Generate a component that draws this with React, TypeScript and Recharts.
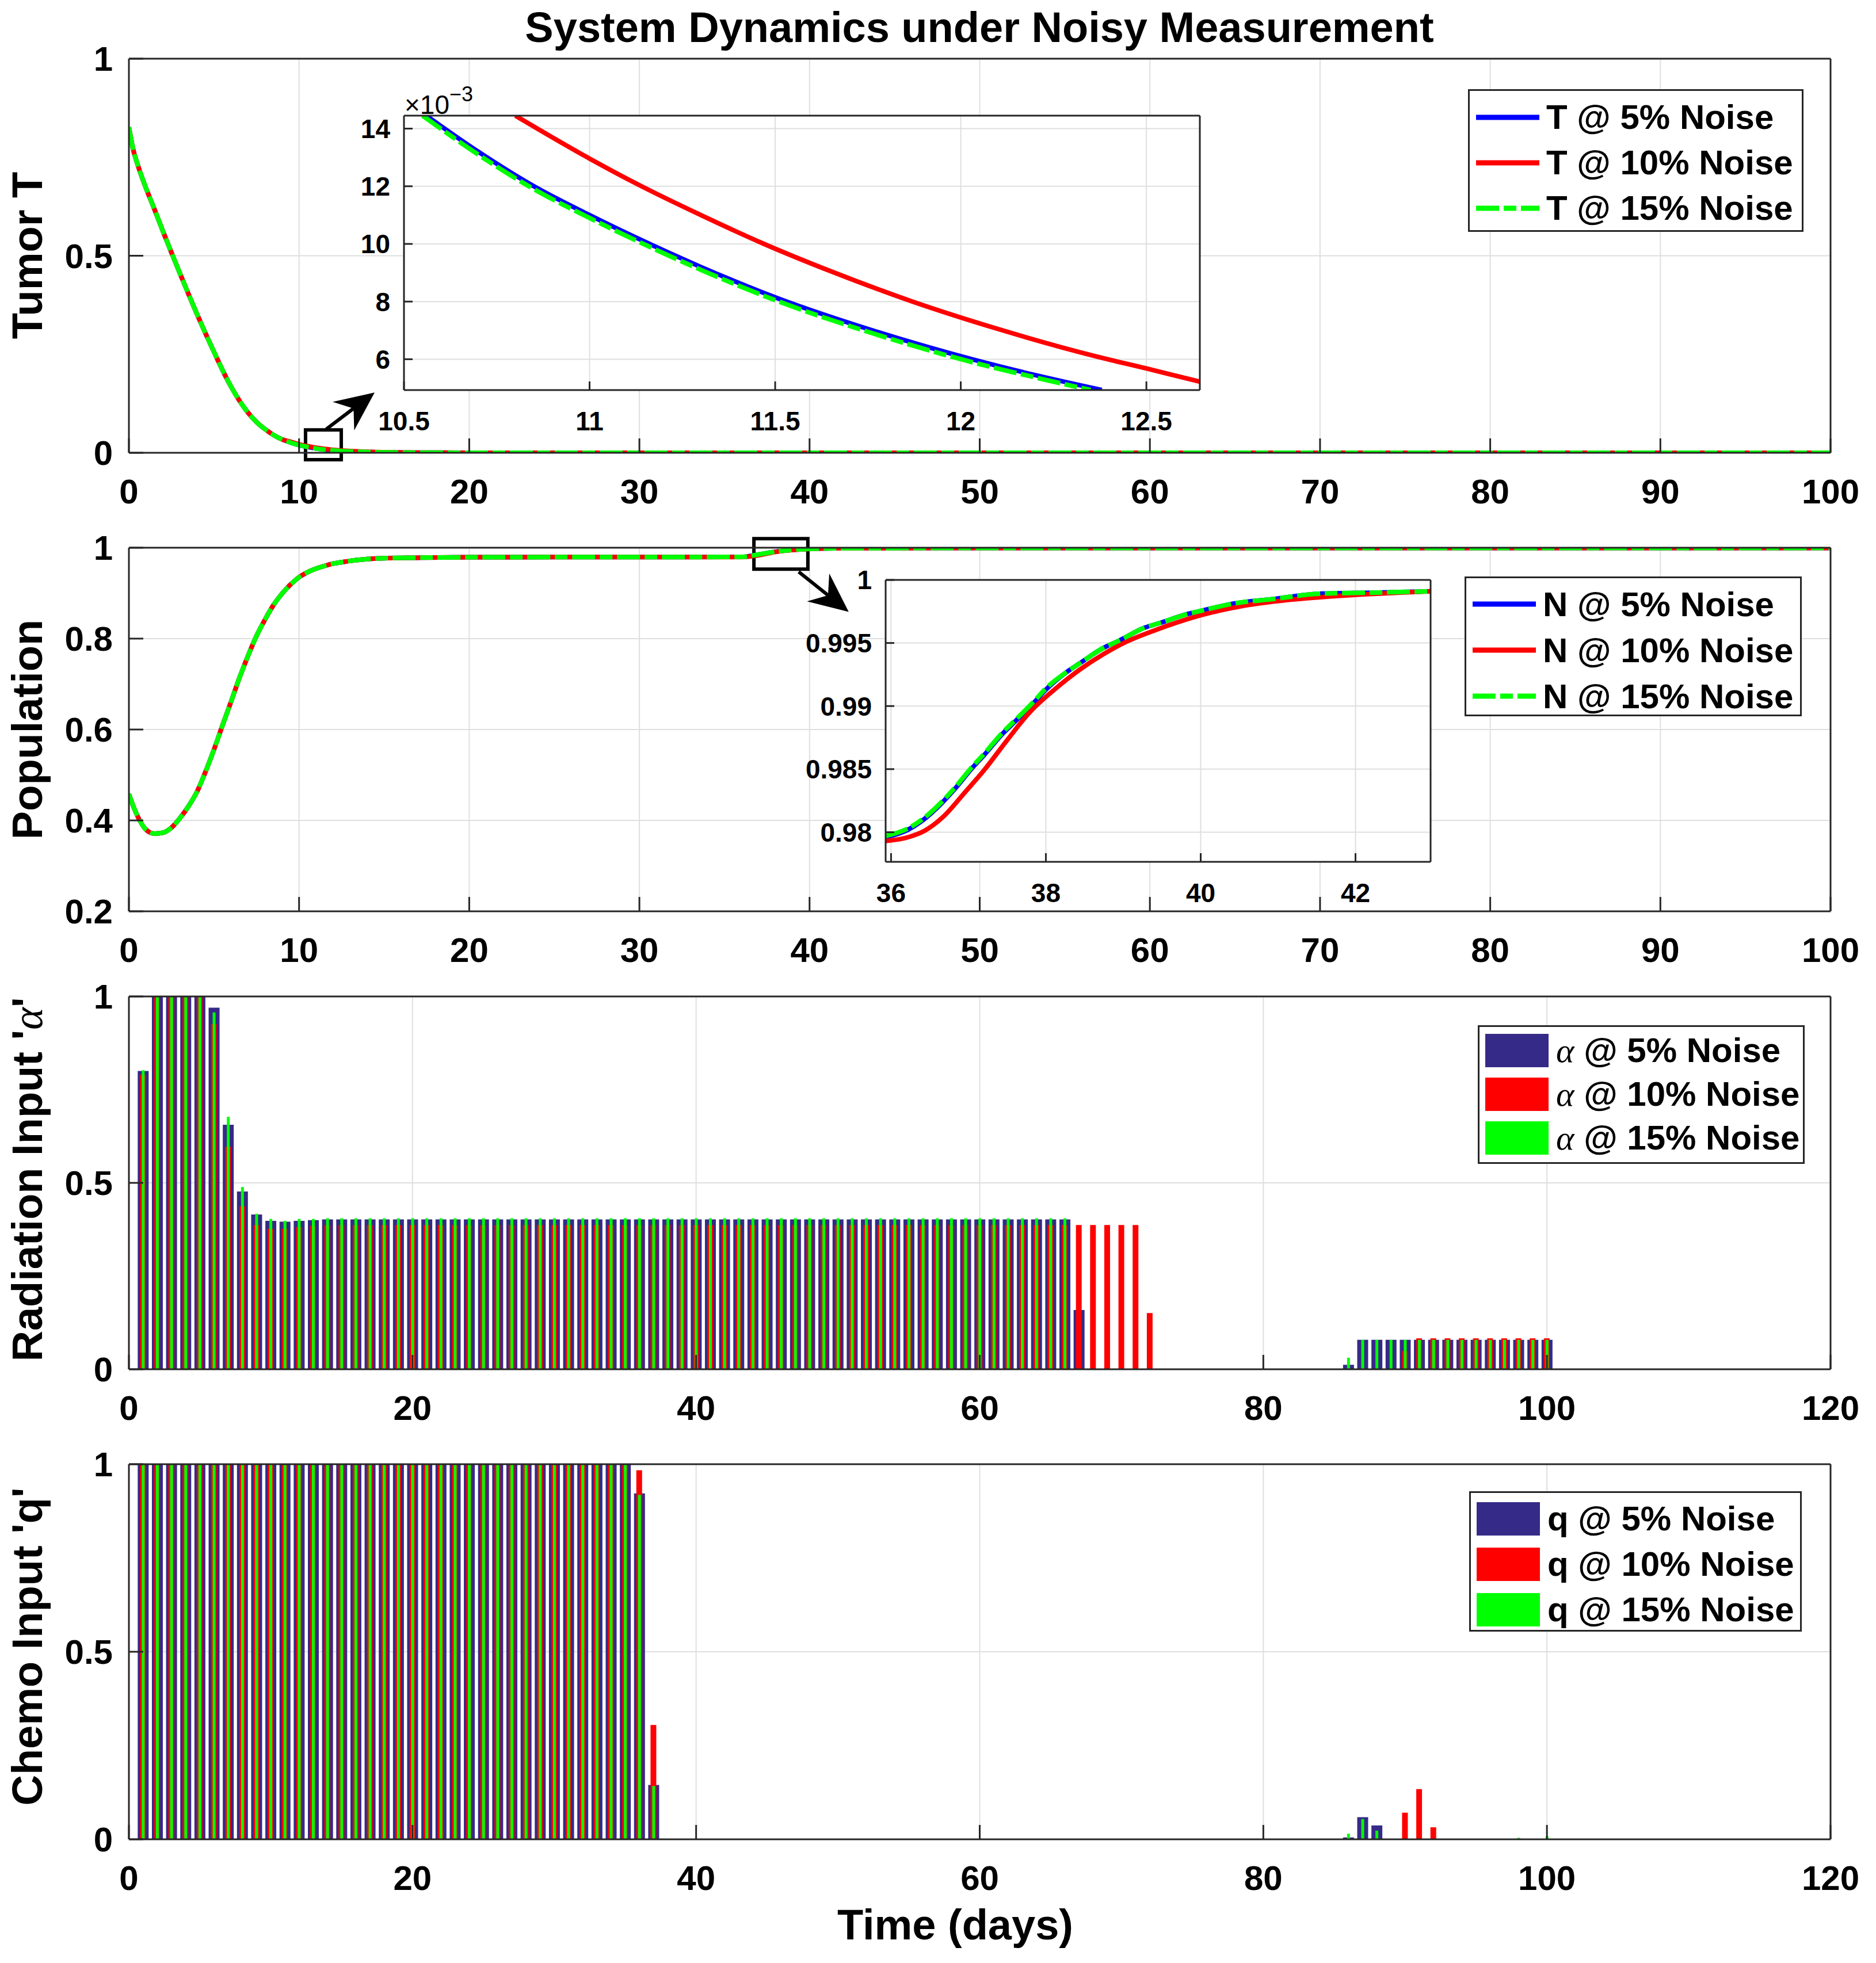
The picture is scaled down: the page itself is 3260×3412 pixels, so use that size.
import React from "react";
import {
  LineChart,
  Line,
  BarChart,
  Bar,
  XAxis,
  YAxis,
  CartesianGrid,
  ReferenceArea,
  ReferenceLine,
} from "recharts";

const SANS = "'Liberation Sans', Arial, Helvetica, sans-serif";
const SERIF = "'Liberation Serif', 'Times New Roman', serif";
const INK = "#262626";
const GRID = "#dfdfdf";
const BLUE = "#0000ff";
const RED = "#ff0000";
const GREEN = "#00ff00";
const NAVY = "#352a87";
const DASH_DOT = "40 8 22 8";

const W = 3260;
const H = 3412;

// ---- time grid shared by the T and N trajectories (days)
const tGrid = [
  0, 0.25, 0.5, 1, 1.5, 2, 2.5, 3, 3.5, 4, 4.5, 5, 5.5, 6, 6.5, 7, 7.5, 8, 8.5, 9, 9.5, 10,
  10.5, 11, 11.5, 12, 12.5, 13, 14, 15, 17, 20, 25, 30, 35, 36, 37, 38, 39, 40, 42, 45,
  50, 60, 70, 80, 90, 100,
];

// tumor T
const T5 = [
  0.826, 0.77, 0.733, 0.672, 0.618, 0.562, 0.508, 0.455, 0.403, 0.352, 0.303, 0.256, 0.21, 0.168, 0.132, 0.102, 0.078, 0.06, 0.045, 0.034, 0.026, 0.0195,
  0.0148, 0.0109, 0.0081, 0.0062, 0.0045, 0.0034, 0.0019, 0.0011, 0.0004, 0.0001, 0, 0, 0, 0, 0, 0, 0, 0, 0, 0,
  0, 0, 0, 0, 0, 0,
];
const T10 = [
  0.826, 0.77, 0.733, 0.672, 0.618, 0.562, 0.508, 0.455, 0.403, 0.352, 0.303, 0.256, 0.21, 0.168, 0.132, 0.102, 0.078, 0.06, 0.045, 0.034, 0.028, 0.0215,
  0.0168, 0.0129, 0.0098, 0.0075, 0.0057, 0.0043, 0.0025, 0.0014, 0.0005, 0.0001, 0, 0, 0, 0, 0, 0, 0, 0, 0, 0,
  0, 0, 0, 0, 0, 0,
];
const T15 = [
  0.826, 0.77, 0.733, 0.672, 0.618, 0.562, 0.508, 0.455, 0.403, 0.352, 0.303, 0.256, 0.21, 0.168, 0.132, 0.102, 0.078, 0.06, 0.045, 0.034, 0.026, 0.0194,
  0.0146, 0.0107, 0.0079, 0.0061, 0.0044, 0.0033, 0.0019, 0.0011, 0.0004, 0.0001, 0, 0, 0, 0, 0, 0, 0, 0, 0, 0,
  0, 0, 0, 0, 0, 0,
];

// population N
const N5 = [
  0.458, 0.432, 0.41, 0.38, 0.371, 0.373, 0.384, 0.405, 0.431, 0.463, 0.507, 0.556, 0.609, 0.661, 0.714, 0.762, 0.806, 0.842, 0.874, 0.899, 0.919, 0.935,
  0.946, 0.954, 0.96, 0.965, 0.968, 0.971, 0.975, 0.977, 0.978, 0.979, 0.9793, 0.9795, 0.9796, 0.9798, 0.9851, 0.9913, 0.9952, 0.9976, 0.9989, 0.9992,
  0.9993, 0.9994, 0.9994, 0.9994, 0.9994, 0.9994,
];
const N10 = [
  0.458, 0.432, 0.41, 0.38, 0.371, 0.373, 0.384, 0.405, 0.431, 0.463, 0.507, 0.556, 0.609, 0.661, 0.714, 0.762, 0.806, 0.842, 0.874, 0.899, 0.919, 0.935,
  0.946, 0.954, 0.96, 0.965, 0.968, 0.971, 0.975, 0.977, 0.978, 0.979, 0.9793, 0.9794, 0.9795, 0.9795, 0.9833, 0.9908, 0.9949, 0.9972, 0.9989, 0.9992,
  0.9993, 0.9994, 0.9994, 0.9994, 0.9994, 0.9994,
];
const N15 = [
  0.458, 0.432, 0.41, 0.38, 0.371, 0.373, 0.384, 0.405, 0.431, 0.463, 0.507, 0.556, 0.609, 0.661, 0.714, 0.762, 0.806, 0.842, 0.874, 0.899, 0.919, 0.935,
  0.946, 0.954, 0.96, 0.965, 0.968, 0.971, 0.975, 0.977, 0.978, 0.979, 0.9793, 0.9795, 0.9796, 0.9798, 0.9852, 0.9914, 0.9952, 0.9976, 0.9989, 0.9992,
  0.9993, 0.9994, 0.9994, 0.9994, 0.9994, 0.9994,
];

// zoomed tumor window, values in units of 1e-3
const zT5_t = [10.56, 10.7, 10.85, 11.0, 11.12, 11.3, 11.51, 11.75, 12.03, 12.2, 12.38];
const zT5_v = [14.45, 13.2, 12.0, 11.0, 10.25, 9.2, 8.1, 7.05, 6.0, 5.45, 4.93];
const zT10_t = [10.8, 11.0, 11.14, 11.3, 11.47, 11.65, 11.87, 12.1, 12.37, 12.5, 12.644];
const zT10_v = [14.45, 12.96, 12.0, 11.0, 10.0, 9.05, 8.0, 7.05, 6.08, 5.68, 5.22];
const zT15_t = [10.55, 10.7, 10.85, 11.0, 11.12, 11.3, 11.51, 11.75, 12.03, 12.2, 12.35];
const zT15_v = [14.45, 13.1, 11.9, 10.9, 10.15, 9.1, 8.0, 6.95, 5.9, 5.37, 4.93];

// zoomed population window
const zN5_t = [35.93, 36.22, 36.4, 36.67, 36.82, 37.05, 37.2, 37.44, 37.59, 37.85, 38.0, 38.27, 38.44, 38.74, 38.95, 39.27, 39.48, 39.83, 40.04, 40.4, 40.96, 41.52, 42.29, 42.97];
const zN5_v = [0.9796, 0.9802, 0.9809, 0.9824, 0.9834, 0.9851, 0.9861, 0.9878, 0.9887, 0.9903, 0.9913, 0.9927, 0.9934, 0.9946, 0.9952, 0.9962, 0.9966, 0.9973, 0.9976, 0.9981, 0.9985, 0.9989, 0.999, 0.9991];
const zN10_t = [35.93, 36.22, 36.43, 36.67, 36.96, 37.2, 37.5, 37.79, 38.09, 38.44, 38.74, 39.04, 39.45, 40.0, 40.51, 41.11, 41.7, 42.97];
const zN10_v = [0.9793, 0.9796, 0.9801, 0.9812, 0.9832, 0.9849, 0.9873, 0.9895, 0.9912, 0.9929, 0.9941, 0.9951, 0.9961, 0.9972, 0.9979, 0.9984, 0.9987, 0.9991];
const zN15_t = [35.93, 36.22, 36.4, 36.67, 36.82, 37.05, 37.2, 37.44, 37.59, 37.85, 38.0, 38.27, 38.44, 38.74, 38.95, 39.27, 39.48, 39.83, 40.04, 40.4, 40.96, 41.52, 42.29, 42.97];
const zN15_v = [0.9797, 0.9803, 0.981, 0.9825, 0.9835, 0.9852, 0.9862, 0.9879, 0.9888, 0.9904, 0.9914, 0.9927, 0.9934, 0.9946, 0.9952, 0.9962, 0.9966, 0.9973, 0.9976, 0.9981, 0.9985, 0.9989, 0.999, 0.9991];

// daily radiation input alpha, days 1..100 (one row = ten days)
const alpha5 = [
  0.8, 1, 1, 1, 1, 0.97, 0.656, 0.477, 0.415, 0.398,
  0.396, 0.398, 0.4, 0.402, 0.402, 0.402, 0.402, 0.402, 0.402, 0.402,
  0.402, 0.402, 0.402, 0.402, 0.402, 0.402, 0.402, 0.402, 0.402, 0.402,
  0.402, 0.402, 0.402, 0.402, 0.402, 0.402, 0.402, 0.402, 0.402, 0.402,
  0.402, 0.402, 0.402, 0.402, 0.402, 0.402, 0.402, 0.402, 0.402, 0.402,
  0.402, 0.402, 0.402, 0.402, 0.402, 0.402, 0.402, 0.402, 0.402, 0.402,
  0.402, 0.402, 0.402, 0.402, 0.402, 0.402, 0.159, 0, 0, 0,
  0, 0, 0, 0, 0, 0, 0, 0, 0, 0,
  0, 0, 0, 0, 0, 0.012, 0.079, 0.079, 0.079, 0.079,
  0.079, 0.079, 0.079, 0.079, 0.079, 0.079, 0.079, 0.079, 0.079, 0.079,
];
const alpha10 = [
  0.79, 1, 1, 1, 1, 0.926, 0.597, 0.437, 0.387, 0.377,
  0.377, 0.381, 0.385, 0.387, 0.387, 0.387, 0.387, 0.387, 0.387, 0.387,
  0.387, 0.387, 0.387, 0.387, 0.387, 0.387, 0.387, 0.387, 0.387, 0.387,
  0.387, 0.387, 0.387, 0.387, 0.387, 0.387, 0.387, 0.387, 0.387, 0.387,
  0.387, 0.387, 0.387, 0.387, 0.387, 0.387, 0.387, 0.387, 0.387, 0.387,
  0.387, 0.387, 0.387, 0.387, 0.387, 0.387, 0.387, 0.387, 0.387, 0.387,
  0.387, 0.387, 0.387, 0.387, 0.387, 0.387, 0.387, 0.387, 0.387, 0.387,
  0.387, 0.151, 0, 0, 0, 0, 0, 0, 0, 0,
  0, 0, 0, 0, 0, 0, 0, 0, 0, 0.049,
  0.083, 0.083, 0.083, 0.083, 0.083, 0.083, 0.083, 0.083, 0.083, 0.083,
];
const alpha15 = [
  0.802, 1, 1, 1, 1, 0.957, 0.677, 0.489, 0.417, 0.403,
  0.398, 0.403, 0.403, 0.405, 0.405, 0.405, 0.405, 0.405, 0.405, 0.405,
  0.405, 0.405, 0.405, 0.405, 0.405, 0.405, 0.405, 0.405, 0.405, 0.405,
  0.405, 0.405, 0.405, 0.405, 0.405, 0.405, 0.405, 0.405, 0.405, 0.405,
  0.405, 0.405, 0.405, 0.405, 0.405, 0.405, 0.405, 0.405, 0.405, 0.405,
  0.405, 0.405, 0.405, 0.405, 0.405, 0.405, 0.405, 0.405, 0.405, 0.405,
  0.405, 0.405, 0.405, 0.405, 0.405, 0.405, 0, 0, 0, 0,
  0, 0, 0, 0, 0, 0, 0, 0, 0, 0,
  0, 0, 0, 0, 0, 0.031, 0.079, 0.079, 0.079, 0.079,
  0.079, 0.079, 0.079, 0.079, 0.079, 0.079, 0.079, 0.079, 0.079, 0.079,
];

// daily chemo input q, days 1..100 (one row = ten days)
const q5 = [
  1, 1, 1, 1, 1, 1, 1, 1, 1, 1,
  1, 1, 1, 1, 1, 1, 1, 1, 1, 1,
  1, 1, 1, 1, 1, 1, 1, 1, 1, 1,
  1, 1, 1, 1, 1, 0.922, 0.145, 0, 0, 0,
  0, 0, 0, 0, 0, 0, 0, 0, 0, 0,
  0, 0, 0, 0, 0, 0, 0, 0, 0, 0,
  0, 0, 0, 0, 0, 0, 0, 0, 0, 0,
  0, 0, 0, 0, 0, 0, 0, 0, 0, 0,
  0, 0, 0, 0, 0, 0.005, 0.059, 0.037, 0, 0,
  0, 0, 0, 0, 0, 0, 0, 0, 0, 0,
];
const q10 = [
  1, 1, 1, 1, 1, 1, 1, 1, 1, 1,
  1, 1, 1, 1, 1, 1, 1, 1, 1, 1,
  1, 1, 1, 1, 1, 1, 1, 1, 1, 1,
  1, 1, 1, 1, 1, 0.984, 0.305, 0, 0, 0,
  0, 0, 0, 0, 0, 0, 0, 0, 0, 0,
  0, 0, 0, 0, 0, 0, 0, 0, 0, 0,
  0, 0, 0, 0, 0, 0, 0, 0, 0, 0,
  0, 0, 0, 0, 0, 0, 0, 0, 0, 0,
  0, 0, 0, 0, 0, 0, 0, 0, 0, 0.071,
  0.134, 0.032, 0, 0, 0, 0, 0, 0, 0, 0,
];
const q15 = [
  1, 1, 1, 1, 1, 1, 1, 1, 1, 1,
  1, 1, 1, 1, 1, 1, 1, 1, 1, 1,
  1, 1, 1, 1, 1, 1, 1, 1, 1, 1,
  1, 1, 1, 1, 1, 0.918, 0.142, 0, 0, 0,
  0, 0, 0, 0, 0, 0, 0, 0, 0, 0,
  0, 0, 0, 0, 0, 0, 0, 0, 0, 0,
  0, 0, 0, 0, 0, 0, 0, 0, 0, 0,
  0, 0, 0, 0, 0, 0, 0, 0, 0, 0,
  0, 0, 0, 0, 0, 0.015, 0.054, 0.023, 0, 0,
  0, 0, 0, 0, 0, 0, 0, 0.004, 0, 0.008,
];

const xTicks100 = [0, 10, 20, 30, 40, 50, 60, 70, 80, 90, 100];
const xTicks120 = [0, 20, 40, 60, 80, 100, 120];

// zoom-box and arrow annotations (data coordinates)
const boxT = { x1: 10.38, x2: 12.48, y1: -0.0175, y2: 0.058 };
const arrowT = [{ x: 11.6, y: 0.06 }, { x: 14.44, y: 0.153 }];
const boxN = { x1: 36.73, x2: 39.9, y1: 0.953, y2: 1.02 };
const arrowN = [{ x: 39.36, y: 0.947 }, { x: 42.3, y: 0.859 }];

const mainRows = tGrid.map((t, i) => ({
  t,
  T5: T5[i],
  T10: T10[i],
  T15: T15[i],
  N5: N5[i],
  N10: N10[i],
  N15: N15[i],
}));
const days = alpha5.map((_, i) => i + 1);
const alphaRows = days.map((day, i) => ({ day, a5: alpha5[i], a10: alpha10[i], a15: alpha15[i] }));
const qRows = days.map((day, i) => ({ day, q5: q5[i], q10: q10[i], q15: q15[i] }));
const pairs = (ts: number[], vs: number[]) => ts.map((t, i) => ({ t, v: vs[i] }));

const tickStyle = { fontFamily: SANS, fontSize: 60, fontWeight: 700, fill: "#000" };
const insetTick = { fontFamily: SANS, fontSize: 46, fontWeight: 700, fill: "#000" };
const edge = { stroke: INK, strokeWidth: 3 };
// plot area starts 50px below a main chart's top and 224px from its left
const MARGIN = { top: 49, right: 78, bottom: 20, left: 124 };
// plot area starts 40px below an inset's top and 210px from its left
const INSET_MARGIN = { top: 39, right: 19, bottom: 10, left: 150 };

function Arrow(props: any) {
  const { x1, y1, x2, y2 } = props;
  const dx = x2 - x1;
  const dy = y2 - y1;
  const len = Math.hypot(dx, dy) || 1;
  const ux = dx / len;
  const uy = dy / len;
  const nx = -uy;
  const ny = ux;
  const L = 68;
  const half = 31;
  const back = 46;
  const bx = x2 - ux * L;
  const by = y2 - uy * L;
  const mx = x2 - ux * back;
  const my = y2 - uy * back;
  const pts = [
    [x2, y2],
    [bx + nx * half, by + ny * half],
    [mx, my],
    [bx - nx * half, by - ny * half],
  ]
    .map((p) => p.join(","))
    .join(" ");
  return (
    <g>
      <line x1={x1} y1={y1} x2={mx} y2={my} stroke="#000" strokeWidth={6} />
      <polygon points={pts} fill="#000" />
    </g>
  );
}

function LineLegend({ left, top, width, height, row, padTop, items }: any) {
  return (
    <div
      style={{
        position: "absolute",
        left,
        top,
        width,
        height,
        boxSizing: "border-box",
        border: `3px solid ${INK}`,
        background: "#fff",
        paddingTop: padTop,
        paddingLeft: 11,
      }}
    >
      {items.map((it: any) => (
        <div key={it.label} style={{ height: row, display: "flex", alignItems: "center" }}>
          <svg width={110} height={20} style={{ flex: "none" }}>
            <line x1={0} y1={10} x2={110} y2={10} stroke={it.color} strokeWidth={9} strokeDasharray={it.dash} />
          </svg>
          <span style={{ marginLeft: 12, fontFamily: SANS, fontSize: 60, fontWeight: 700, whiteSpace: "nowrap" }}>
            {it.label}
          </span>
        </div>
      ))}
    </div>
  );
}

function BarLegend({ left, top, width, height, row, padTop, symbol, items }: any) {
  return (
    <div
      style={{
        position: "absolute",
        left,
        top,
        width,
        height,
        boxSizing: "border-box",
        border: `3px solid ${INK}`,
        background: "#fff",
        paddingTop: padTop,
        paddingLeft: 10,
      }}
    >
      {items.map((it: any) => (
        <div key={it.label} style={{ height: row, display: "flex", alignItems: "center" }}>
          <div style={{ width: 110, height: 58, background: it.color, flex: "none" }} />
          <span style={{ marginLeft: 13, fontFamily: SANS, fontSize: 60, fontWeight: 700, whiteSpace: "nowrap" }}>
            {symbol}
            {it.label}
          </span>
        </div>
      ))}
    </div>
  );
}

// rotated axis title, centred on (48, cy)
function YLabel({ cy, children }: any) {
  return (
    <div
      style={{
        position: "absolute",
        left: 48,
        top: cy,
        transform: "translate(-50%, -50%) rotate(180deg)",
        writingMode: "vertical-rl",
        fontFamily: SANS,
        fontSize: 74,
        fontWeight: 700,
        whiteSpace: "nowrap",
        lineHeight: 1,
      }}
    >
      {children}
    </div>
  );
}

const alphaSym = (
  <span style={{ fontFamily: SERIF, fontStyle: "italic", fontWeight: 400 }}>α</span>
);

export default function App() {
  return (
    <div style={{ position: "absolute", left: 0, top: 0, width: W, height: H, background: "#fff" }}>
      <div
        style={{
          position: "absolute",
          left: 1702,
          top: 48,
          transform: "translate(-50%, -50%)",
          fontFamily: SANS,
          fontSize: 74,
          fontWeight: 700,
          whiteSpace: "nowrap",
          lineHeight: 1,
        }}
      >
        System Dynamics under Noisy Measurement
      </div>

      {/* Tumor T */}
      <div style={{ position: "absolute", left: 0, top: 52 }}>
        <LineChart width={W} height={855} data={mainRows} margin={MARGIN}>
          <CartesianGrid stroke={GRID} strokeWidth={2} />
          <XAxis dataKey="t" type="number" domain={[0, 100]} ticks={xTicks100} interval={0} allowDataOverflow height={100}
            axisLine={edge} tickLine={edge} tickSize={-25} tickMargin={70} tick={tickStyle} />
          <XAxis xAxisId="top" orientation="top" dataKey="t" type="number" domain={[0, 100]} ticks={xTicks100} interval={0}
            allowDataOverflow height={1} axisLine={edge} tickLine={edge} tickSize={-25} tick={false} />
          <YAxis type="number" domain={[0, 1]} ticks={[0, 0.5, 1]} interval={0} allowDataOverflow width={100}
            axisLine={edge} tickLine={edge} tickSize={-25} tickMargin={53} tick={tickStyle} />
          <YAxis yAxisId="right" orientation="right" type="number" domain={[0, 1]} ticks={[0, 0.5, 1]} interval={0}
            allowDataOverflow width={1} axisLine={edge} tickLine={edge} tickSize={-25} tick={false} />
          <Line type="monotone" dataKey="T5" stroke={BLUE} strokeWidth={8} dot={false} activeDot={false} isAnimationActive={false} />
          <Line type="monotone" dataKey="T10" stroke={RED} strokeWidth={8} dot={false} activeDot={false} isAnimationActive={false} />
          <Line type="monotone" dataKey="T15" stroke={GREEN} strokeWidth={8} strokeDasharray={DASH_DOT} dot={false} activeDot={false} isAnimationActive={false} />
          <ReferenceArea {...boxT} fill="none" stroke="#000" strokeWidth={6} ifOverflow="visible" />
          <ReferenceLine segment={arrowT} ifOverflow="visible" shape={Arrow} />
        </LineChart>
      </div>

      {/* Tumor zoom */}
      <div style={{ position: "absolute", left: 492, top: 161 }}>
        <LineChart width={1613} height={607} margin={INSET_MARGIN}>
          <CartesianGrid stroke={GRID} strokeWidth={2} fill="#fff" fillOpacity={1} />
          <XAxis dataKey="t" type="number" domain={[10.5, 12.644]} ticks={[10.5, 11, 11.5, 12, 12.5]} interval={0} allowDataOverflow height={80}
            axisLine={edge} tickLine={edge} tickSize={-15} tickMargin={52} tick={insetTick} />
          <XAxis xAxisId="top" orientation="top" dataKey="t" type="number" domain={[10.5, 12.644]} ticks={[10.5, 11, 11.5, 12, 12.5]} interval={0}
            allowDataOverflow height={1} axisLine={edge} tickLine={edge} tickSize={-15} tick={false} />
          <YAxis type="number" domain={[4.93, 14.45]} ticks={[6, 8, 10, 12, 14]} interval={0} allowDataOverflow width={60}
            axisLine={edge} tickLine={edge} tickSize={-15} tickMargin={39} tick={insetTick} />
          <YAxis yAxisId="right" orientation="right" type="number" domain={[4.93, 14.45]} ticks={[6, 8, 10, 12, 14]} interval={0}
            allowDataOverflow width={1} axisLine={edge} tickLine={edge} tickSize={-15} tick={false} />
          <Line data={pairs(zT5_t, zT5_v)} type="monotone" dataKey="v" stroke={BLUE} strokeWidth={8} dot={false} activeDot={false} isAnimationActive={false} />
          <Line data={pairs(zT10_t, zT10_v)} type="monotone" dataKey="v" stroke={RED} strokeWidth={8} dot={false} activeDot={false} isAnimationActive={false} />
          <Line data={pairs(zT15_t, zT15_v)} type="monotone" dataKey="v" stroke={GREEN} strokeWidth={8} strokeDasharray={DASH_DOT} dot={false} activeDot={false} isAnimationActive={false} />
        </LineChart>
      </div>
      <div style={{ position: "absolute", left: 703, top: 146, fontFamily: SANS, fontSize: 46, lineHeight: 1, whiteSpace: "nowrap" }}>
        ×10<sup style={{ fontSize: 36, verticalAlign: "0.6em" }}>−3</sup>
      </div>

      <LineLegend
        left={2551}
        top={155}
        width={583}
        height={248}
        row={79}
        padTop={6}
        items={[
          { label: "T @ 5% Noise", color: BLUE },
          { label: "T @ 10% Noise", color: RED },
          { label: "T @ 15% Noise", color: GREEN, dash: DASH_DOT },
        ]}
      />
      <YLabel cy={444}>Tumor T</YLabel>

      {/* Population N */}
      <div style={{ position: "absolute", left: 0, top: 902 }}>
        <LineChart width={W} height={802} data={mainRows} margin={MARGIN}>
          <CartesianGrid stroke={GRID} strokeWidth={2} />
          <XAxis dataKey="t" type="number" domain={[0, 100]} ticks={xTicks100} interval={0} allowDataOverflow height={100}
            axisLine={edge} tickLine={edge} tickSize={-25} tickMargin={70} tick={tickStyle} />
          <XAxis xAxisId="top" orientation="top" dataKey="t" type="number" domain={[0, 100]} ticks={xTicks100} interval={0}
            allowDataOverflow height={1} axisLine={edge} tickLine={edge} tickSize={-25} tick={false} />
          <YAxis type="number" domain={[0.2, 1]} ticks={[0.2, 0.4, 0.6, 0.8, 1]} interval={0} allowDataOverflow width={100}
            axisLine={edge} tickLine={edge} tickSize={-25} tickMargin={53} tick={tickStyle} />
          <YAxis yAxisId="right" orientation="right" type="number" domain={[0.2, 1]} ticks={[0.2, 0.4, 0.6, 0.8, 1]} interval={0}
            allowDataOverflow width={1} axisLine={edge} tickLine={edge} tickSize={-25} tick={false} />
          <Line type="monotone" dataKey="N5" stroke={BLUE} strokeWidth={8} dot={false} activeDot={false} isAnimationActive={false} />
          <Line type="monotone" dataKey="N10" stroke={RED} strokeWidth={8} dot={false} activeDot={false} isAnimationActive={false} />
          <Line type="monotone" dataKey="N15" stroke={GREEN} strokeWidth={8} strokeDasharray={DASH_DOT} dot={false} activeDot={false} isAnimationActive={false} />
          <ReferenceArea {...boxN} fill="none" stroke="#000" strokeWidth={6} ifOverflow="visible" />
          <ReferenceLine segment={arrowN} ifOverflow="visible" shape={Arrow} />
        </LineChart>
      </div>

      {/* Population zoom */}
      <div style={{ position: "absolute", left: 1329, top: 968 }}>
        <LineChart width={1177} height={620} margin={INSET_MARGIN}>
          <CartesianGrid stroke={GRID} strokeWidth={2} fill="#fff" fillOpacity={1} />
          <XAxis dataKey="t" type="number" domain={[35.93, 42.97]} ticks={[36, 38, 40, 42]} interval={0} allowDataOverflow height={80}
            axisLine={edge} tickLine={edge} tickSize={-15} tickMargin={52} tick={insetTick} />
          <XAxis xAxisId="top" orientation="top" dataKey="t" type="number" domain={[35.93, 42.97]} ticks={[36, 38, 40, 42]} interval={0}
            allowDataOverflow height={1} axisLine={edge} tickLine={edge} tickSize={-15} tick={false} />
          <YAxis type="number" domain={[0.97765, 1]} ticks={[0.98, 0.985, 0.99, 0.995, 1]} interval={0} allowDataOverflow width={60}
            axisLine={edge} tickLine={edge} tickSize={-15} tickMargin={39} tick={insetTick} />
          <YAxis yAxisId="right" orientation="right" type="number" domain={[0.97765, 1]} ticks={[0.98, 0.985, 0.99, 0.995, 1]} interval={0}
            allowDataOverflow width={1} axisLine={edge} tickLine={edge} tickSize={-15} tick={false} />
          <Line data={pairs(zN5_t, zN5_v)} type="monotone" dataKey="v" stroke={BLUE} strokeWidth={8} dot={false} activeDot={false} isAnimationActive={false} />
          <Line data={pairs(zN10_t, zN10_v)} type="monotone" dataKey="v" stroke={RED} strokeWidth={8} dot={false} activeDot={false} isAnimationActive={false} />
          <Line data={pairs(zN15_t, zN15_v)} type="monotone" dataKey="v" stroke={GREEN} strokeWidth={8} strokeDasharray={DASH_DOT} dot={false} activeDot={false} isAnimationActive={false} />
        </LineChart>
      </div>

      <LineLegend
        left={2545}
        top={1002}
        width={586}
        height={243}
        row={80}
        padTop={5}
        items={[
          { label: "N @ 5% Noise", color: BLUE },
          { label: "N @ 10% Noise", color: RED },
          { label: "N @ 15% Noise", color: GREEN, dash: DASH_DOT },
        ]}
      />
      <YLabel cy={1268}>Population</YLabel>

      {/* Radiation alpha */}
      <div style={{ position: "absolute", left: 0, top: 1682 }}>
        <BarChart width={W} height={818} data={alphaRows} margin={MARGIN}>
          <CartesianGrid stroke={GRID} strokeWidth={2} />
          <XAxis dataKey="day" type="number" domain={[0, 120]} ticks={xTicks120} interval={0} allowDataOverflow height={100}
            axisLine={edge} tickLine={edge} tickSize={-25} tickMargin={70} tick={tickStyle} />
          <XAxis xAxisId="mid" dataKey="day" type="number" domain={[0, 120]} allowDataOverflow hide />
          <XAxis xAxisId="thin" dataKey="day" type="number" domain={[0, 120]} allowDataOverflow hide />
          <XAxis xAxisId="top" orientation="top" dataKey="day" type="number" domain={[0, 120]} ticks={xTicks120} interval={0}
            allowDataOverflow height={1} axisLine={edge} tickLine={edge} tickSize={-25} tick={false} />
          <YAxis type="number" domain={[0, 1]} ticks={[0, 0.5, 1]} interval={0} allowDataOverflow width={100}
            axisLine={edge} tickLine={edge} tickSize={-25} tickMargin={53} tick={tickStyle} />
          <YAxis yAxisId="right" orientation="right" type="number" domain={[0, 1]} ticks={[0, 0.5, 1]} interval={0}
            allowDataOverflow width={1} axisLine={edge} tickLine={edge} tickSize={-25} tick={false} />
          <Bar dataKey="a5" fill={NAVY} barSize={19} isAnimationActive={false} />
          <Bar dataKey="a10" xAxisId="mid" fill={RED} barSize={10} isAnimationActive={false} />
          <Bar dataKey="a15" xAxisId="thin" fill={GREEN} barSize={5} isAnimationActive={false} />
        </BarChart>
      </div>
      <BarLegend
        left={2568}
        top={1782}
        width={568}
        height={241}
        row={76}
        padTop={3}
        symbol={alphaSym}
        items={[
          { label: " @ 5% Noise", color: NAVY },
          { label: " @ 10% Noise", color: RED },
          { label: " @ 15% Noise", color: GREEN },
        ]}
      />
      <YLabel cy={2050}>
        Radiation Input '{alphaSym}'
      </YLabel>

      {/* Chemo q */}
      <div style={{ position: "absolute", left: 0, top: 2495 }}>
        <BarChart width={W} height={822} data={qRows} margin={MARGIN}>
          <CartesianGrid stroke={GRID} strokeWidth={2} />
          <XAxis dataKey="day" type="number" domain={[0, 120]} ticks={xTicks120} interval={0} allowDataOverflow height={100}
            axisLine={edge} tickLine={edge} tickSize={-25} tickMargin={70} tick={tickStyle} />
          <XAxis xAxisId="mid" dataKey="day" type="number" domain={[0, 120]} allowDataOverflow hide />
          <XAxis xAxisId="thin" dataKey="day" type="number" domain={[0, 120]} allowDataOverflow hide />
          <XAxis xAxisId="top" orientation="top" dataKey="day" type="number" domain={[0, 120]} ticks={xTicks120} interval={0}
            allowDataOverflow height={1} axisLine={edge} tickLine={edge} tickSize={-25} tick={false} />
          <YAxis type="number" domain={[0, 1]} ticks={[0, 0.5, 1]} interval={0} allowDataOverflow width={100}
            axisLine={edge} tickLine={edge} tickSize={-25} tickMargin={53} tick={tickStyle} />
          <YAxis yAxisId="right" orientation="right" type="number" domain={[0, 1]} ticks={[0, 0.5, 1]} interval={0}
            allowDataOverflow width={1} axisLine={edge} tickLine={edge} tickSize={-25} tick={false} />
          <Bar dataKey="q5" fill={NAVY} barSize={19} isAnimationActive={false} />
          <Bar dataKey="q10" xAxisId="mid" fill={RED} barSize={10} isAnimationActive={false} />
          <Bar dataKey="q15" xAxisId="thin" fill={GREEN} barSize={5} isAnimationActive={false} />
        </BarChart>
      </div>
      <BarLegend
        left={2553}
        top={2592}
        width={578}
        height={244}
        row={79}
        padTop={5}
        symbol="q"
        items={[
          { label: " @ 5% Noise", color: NAVY },
          { label: " @ 10% Noise", color: RED },
          { label: " @ 15% Noise", color: GREEN },
        ]}
      />
      <YLabel cy={2862}>Chemo Input 'q'</YLabel>

      <div
        style={{
          position: "absolute",
          left: 1660,
          top: 3346,
          transform: "translate(-50%, -50%)",
          fontFamily: SANS,
          fontSize: 74,
          fontWeight: 700,
          whiteSpace: "nowrap",
          lineHeight: 1,
        }}
      >
        Time (days)
      </div>
    </div>
  );
}
